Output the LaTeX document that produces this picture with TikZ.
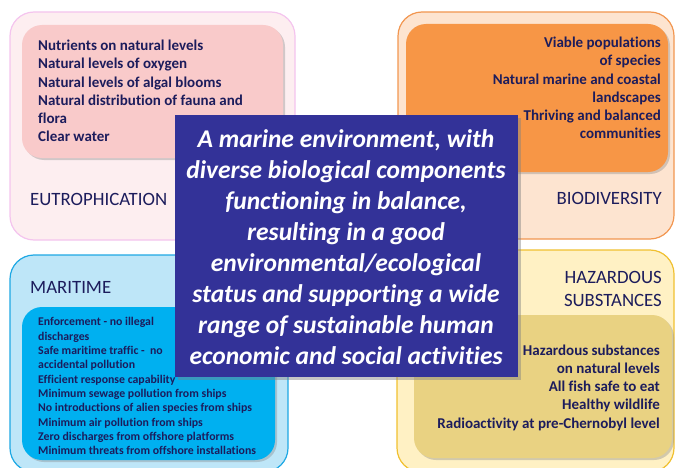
\documentclass[tikz,border=0pt]{standalone}
\usepackage{fontspec}
\setmainfont{Carlito}[Ligatures=NoCommon]
\usetikzlibrary{shadows}
\definecolor{navy}{RGB}{28,28,92}
\definecolor{pinkout}{RGB}{253,238,240}
\definecolor{pinkline}{RGB}{244,196,238}
\definecolor{pinkin}{RGB}{249,202,202}
\definecolor{orangeout}{RGB}{253,228,208}
\definecolor{orangeline}{RGB}{242,150,80}
\definecolor{orangein}{RGB}{247,150,70}
\definecolor{blueout}{RGB}{190,230,248}
\definecolor{blueline}{RGB}{30,168,228}
\definecolor{bluein}{RGB}{0,176,240}
\definecolor{yellowout}{RGB}{255,241,196}
\definecolor{yellowline}{RGB}{240,192,48}
\definecolor{yellowin}{RGB}{233,210,130}
\definecolor{centrebox}{RGB}{51,50,152}
\tikzset{
  outerbox/.style={rounded corners=24pt,line width=1.2pt},
  innerbox/.style={rounded corners=20pt,drop shadow={shadow xshift=2pt,shadow yshift=-2pt,opacity=0.35}},
  listtext/.style={text=navy,font=\bfseries\fontsize{15}{18.2}\selectfont,inner sep=0pt},
  headtext/.style={text=navy,font=\fontsize{18.8}{23}\selectfont,inner sep=0pt}
}
\begin{document}
\begin{tikzpicture}[x=1pt,y=-1pt]
\useasboundingbox (0,0) rectangle (677,468);
% eutrophication
\draw[outerbox,draw=pinkline,fill=pinkout] (10,12) rectangle (295,240);
\fill[innerbox,pinkin] (22,25) rectangle (283,158);
\node[listtext,align=left,anchor=north west] (eutlist) at (38,40)
  {Nutrients on natural levels\\Natural levels of oxygen\\Natural levels of algal blooms\\Natural distribution of fauna and\\flora\\Clear water};
\node[headtext,anchor=base west] (euthead) at (30,205) {EUTROPHICATION};
% biodiversity
\draw[outerbox,draw=orangeline,fill=orangeout] (398,12) rectangle (674,239);
\fill[innerbox,orangein] (406,24) rectangle (668,172);
\node[listtext,align=right,anchor=north east] (biolist) at (661,37)
  {Viable populations\\of species\\Natural marine and coastal\\landscapes\\Thriving and balanced\\communities};
\node[headtext,anchor=base east] (biohead) at (662,204) {BIODIVERSITY};
% maritime
\draw[outerbox,draw=blueline,fill=blueout] (10,255) rectangle (288,472);
\fill[innerbox,bluein] (22,307) rectangle (275,460);
\node[headtext,anchor=base west] (marhead) at (30,293) {MARITIME};
\node[listtext,font=\bfseries\fontsize{11.8}{14.33}\selectfont,align=left,anchor=north west] (marlist) at (38,317.5)
  {Enforcement - no illegal\\discharges\\Safe maritime traffic -\ \ no\\accidental pollution\\Efficient response capability\\Minimum sewage pollution from ships\\No introductions of alien species from ships\\Minimum air pollution from ships\\Zero discharges from offshore platforms\\Minimum threats from offshore installations};
% hazardous substances
\draw[outerbox,draw=yellowline,fill=yellowout] (397,250) rectangle (674,472);
\fill[innerbox,yellowin] (414,315) rectangle (672,458);
\node[headtext,align=right,anchor=north east] (hazhead) at (662,271) {HAZARDOUS\\SUBSTANCES};
\node[listtext,align=right,anchor=north east] (hazlist) at (660,344.5)
  {Hazardous substances\\on natural levels\\All fish safe to eat\\Healthy wildlife\\Radioactivity at pre-Chernobyl level};
% centre
\fill[centrebox,drop shadow={shadow xshift=3pt,shadow yshift=-3pt,opacity=0.45}] (175,115) rectangle (518,377);
\node[text=white,font=\bfseries\itshape\fontsize{25.5}{31.1}\selectfont,align=center] (vision) at (346,247)
  {A marine environment, with\\diverse biological components\\functioning in balance,\\resulting in a good\\environmental/ecological\\status and supporting a wide\\range of sustainable human\\economic and social activities};
\end{tikzpicture}
\end{document}
